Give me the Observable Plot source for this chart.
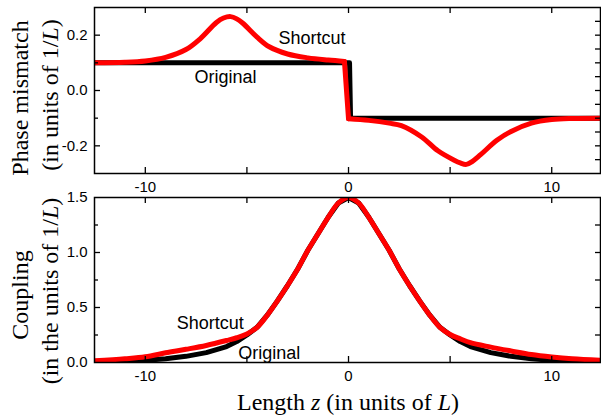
<!DOCTYPE html>
<html><head><meta charset="utf-8">
<script src="https://cdn.jsdelivr.net/npm/d3@7"></script>
<script src="https://cdn.jsdelivr.net/npm/@observablehq/plot@0.6"></script>
<style>
body{margin:0;background:#fff}
#wrap{position:relative;width:601px;height:415px;overflow:hidden;background:#fff}
#wrap > svg{position:absolute;left:0}
</style></head><body><div id="wrap"></div>
<script>
// ---- data ----
const zPhaseOriginal = [-12.5, 0.05, 0.1, 12.5];
const phaseOriginal  = [0.1, 0.1, -0.1, -0.1];

const zPhaseShortcut = [-12.5, -11, -10, -9, -8, -7.3, -6.5, -6.15, -5.8, -5.5, -5.2, -4.5, -3.9, -3, -2, -1, -0.2,
                        0, 1, 2, 2.6, 3.6, 4.4, 5.2, 5.5, 5.8, 6.1, 6.5, 7.3, 8, 9, 10, 11, 12.5];
const phaseShortcut  = [0.100, 0.102, 0.107, 0.120, 0.148, 0.187, 0.246, 0.262, 0.267, 0.259, 0.243, 0.193, 0.158, 0.132, 0.118, 0.110, 0.105,
                        -0.102, -0.108, -0.118, -0.127, -0.168, -0.218, -0.252, -0.262, -0.267, -0.256, -0.232, -0.180, -0.148, -0.118, -0.105, -0.101, -0.100];

const zCoupling = [-12.5, -11, -10, -9, -8, -7, -6, -5.5, -5, -4.5, -4, -3.5, -3, -2.5, -2, -1.5, -1, -0.5, 0,
                   0.5, 1, 1.5, 2, 2.5, 3, 3.5, 4, 4.5, 5, 5.5, 6, 7, 8, 9, 10, 11, 12.5];
const couplingOriginal = [0.005, 0.012, 0.02, 0.034, 0.056, 0.09, 0.145, 0.19, 0.25, 0.32, 0.43, 0.56, 0.70, 0.85, 1.02, 1.17, 1.32, 1.45, 1.5,
                          1.45, 1.32, 1.17, 1.02, 0.85, 0.70, 0.56, 0.43, 0.32, 0.25, 0.19, 0.145, 0.09, 0.056, 0.034, 0.02, 0.012, 0.005];
const couplingShortcut = [0.015, 0.034, 0.052, 0.088, 0.12, 0.155, 0.20, 0.225, 0.26, 0.32, 0.43, 0.56, 0.70, 0.85, 1.02, 1.17, 1.32, 1.45, 1.5,
                          1.45, 1.32, 1.17, 1.02, 0.85, 0.70, 0.56, 0.43, 0.32, 0.255, 0.215, 0.18, 0.14, 0.105, 0.072, 0.05, 0.034, 0.02];

const xTickLabels = [-10, 0, 10];
const xTicks = [-10, -5, 0, 5, 10];
const phaseTickLabels = [-0.2, 0, 0.2];
const phaseTicksMinor = [-0.1, 0.1];
const phaseTicksRight = [-0.25, -0.2, -0.15, -0.1, -0.05, 0, 0.05, 0.1, 0.15, 0.2, 0.25];
const couplingTickLabels = [0, 0.5, 1.0, 1.5];
const couplingTicksMajor = [0.5, 1.0];
const couplingTicksMinor = [0.25, 0.75, 1.25];
const couplingTicksRight = [0.25, 0.5, 0.75, 1.0, 1.25];

const seriesNames = ["Original", "Shortcut"];
const phaseLabelZ = [-6.05, -1.8];
const phaseLabelV = [0.048, 0.188];
const couplingLabelZ = [-3.9, -6.8];
const couplingLabelV = [0.087, 0.356];

// ---- tables ----
const phaseOrig = zPhaseOriginal.map((z, i) => ({z, v: phaseOriginal[i]}));
const jumpIndex = zPhaseShortcut.indexOf(0);
const phaseShort = zPhaseShortcut.map((z, i) => ({z, v: phaseShortcut[i], seg: i < jumpIndex ? "before" : "after"}));
const phaseJump = phaseShort.slice(jumpIndex - 1, jumpIndex + 1);
const coupOrig = zCoupling.map((z, i) => ({z, v: couplingOriginal[i], seg: "all"}));
const coupShort = zCoupling.map((z, i) => ({z, v: couplingShortcut[i], seg: "all"}));
const phaseLabels = seriesNames.map((label, i) => ({label, z: phaseLabelZ[i], v: phaseLabelV[i]}));
const coupLabels = seriesNames.map((label, i) => ({label, z: couplingLabelZ[i], v: couplingLabelV[i]}));

const sans = "'Liberation Sans', Arial, sans-serif";
const serif = "'Liberation Serif', 'Times New Roman', serif";
const xDomain = [-12.5, 12.4];
const fmt1 = d => d.toFixed(1);
const fmt0 = d => String(d);
const W = 601, ML = 94, MR = 1;
const FW = W - ML - MR;

function panel({height, marginTop, marginBottom, yDomain, orig, short, jump, labels, leftMajor, leftMinor, rightTicks, yLabels}) {
  const FH = height - marginTop - marginBottom;
  const tk = {stroke: "#000", strokeWidth: 1.3};
  const red = {x: "z", y: "v", stroke: "#ff0000", strokeWidth: 5, clip: true};
  return Plot.plot({
    width: W, height, marginLeft: ML, marginRight: MR, marginTop, marginBottom,
    style: {fontFamily: sans, fontSize: "15px", color: "#000", background: "transparent", overflow: "visible"},
    x: {domain: xDomain},
    y: {domain: yDomain},
    marks: [
      Plot.line(orig, {x: "z", y: "v", stroke: "#000", strokeWidth: 5, clip: true}),
      Plot.line(short, {...red, z: "seg", curve: "catmull-rom"}),
      jump ? Plot.line(jump, {...red}) : null,
      Plot.frame({stroke: "#000", strokeWidth: 1.5}),
      Plot.tickX(xTicks, {x: d => d, insetTop: FH - 6, ...tk}),
      Plot.tickX(xTicks, {x: d => d, insetBottom: FH - 6, ...tk}),
      Plot.tickY(leftMajor, {y: d => d, insetRight: FW - 6, ...tk}),
      Plot.tickY(leftMinor, {y: d => d, insetRight: FW - 4, ...tk}),
      Plot.tickY(rightTicks, {y: d => d, insetLeft: FW - 5, ...tk}),
      Plot.axisX(xTickLabels, {anchor: "bottom", tickSize: 0, tickPadding: 8, tickFormat: fmt0, label: null, fontSize: 15}),
      Plot.axisY(yLabels, {anchor: "left", tickSize: 0, tickPadding: 7, tickFormat: fmt1, label: null, fontSize: 15}),
      Plot.text(labels, {x: "z", y: "v", text: "label", fontSize: 18, fontFamily: sans, fill: "#000"})
    ]
  });
}

const wrap = document.getElementById("wrap");

const topPlot = panel({
  height: 196, marginTop: 7, marginBottom: 23, yDomain: [-0.3, 0.3],
  orig: phaseOrig, short: phaseShort, jump: phaseJump, labels: phaseLabels,
  leftMajor: phaseTickLabels, leftMinor: phaseTicksMinor, rightTicks: phaseTicksRight, yLabels: phaseTickLabels
});
topPlot.style.top = "0px";
wrap.appendChild(topPlot);

const botPlot = panel({
  height: 225, marginTop: 7, marginBottom: 53, yDomain: [0, 1.5],
  orig: coupOrig, short: coupShort, jump: null, labels: coupLabels,
  leftMajor: couplingTicksMajor, leftMinor: couplingTicksMinor, rightTicks: couplingTicksRight, yLabels: couplingTickLabels
});
botPlot.style.top = "190px";
wrap.appendChild(botPlot);

// ---- axis titles ----
const svg = d3.select(wrap).append("svg")
  .attr("width", 601).attr("height", 415)
  .style("top", "0px").style("pointer-events", "none")
  .attr("font-family", serif).attr("font-size", 24).attr("fill", "#000");

function vtitle(x, y, parts) {
  const t = svg.append("text").attr("text-anchor", "middle")
    .attr("transform", `translate(${x},${y}) rotate(-90)`);
  parts.forEach(([s, it]) => {
    const ts = t.append("tspan").text(s);
    if (it) ts.attr("font-style", "italic");
  });
}
vtitle(28, 98, [["Phase mismatch", false]]);
vtitle(58, 95, [["(in units of 1/", false], ["L", true], [")", false]]);
vtitle(28, 295, [["Coupling", false]]);
vtitle(58, 291, [["(in the units of 1/", false], ["L", true], [")", false]]);

const xt = svg.append("text").attr("text-anchor", "middle").attr("x", 348).attr("y", 410);
xt.append("tspan").text("Length ");
xt.append("tspan").attr("font-style", "italic").text("z");
xt.append("tspan").text(" (in units of ");
xt.append("tspan").attr("font-style", "italic").text("L");
xt.append("tspan").text(")");
</script></body></html>
